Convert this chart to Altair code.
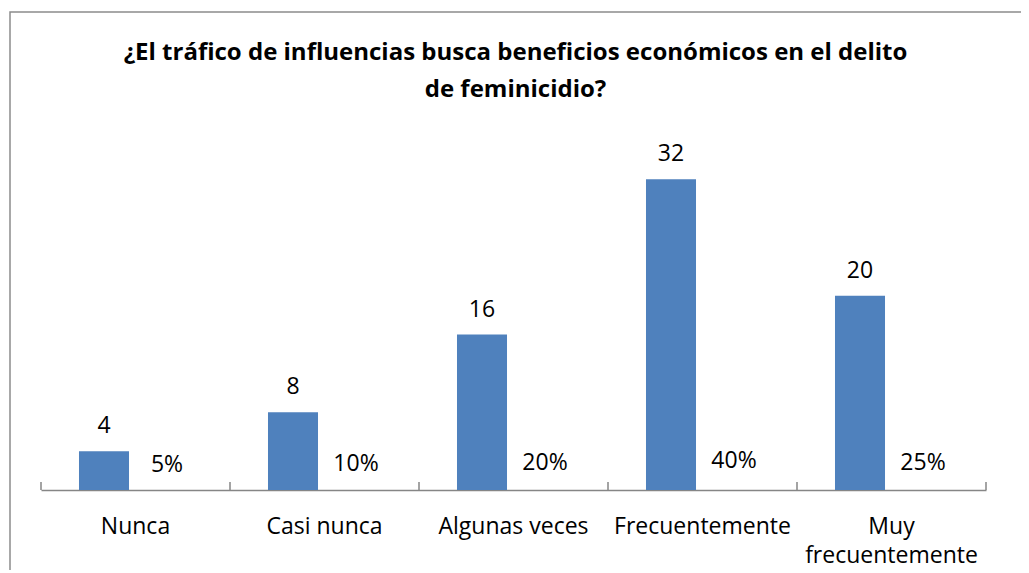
import altair as alt
import pandas as pd

categories = ["Nunca", "Casi nunca", "Algunas veces", "Frecuentemente", "Muy frecuentemente"]
counts = [4, 8, 16, 32, 20]
percents = [5, 10, 20, 40, 25]
series = ["Frecuencia", "Porcentaje"]
title_lines = ["¿El tráfico de influencias busca beneficios económicos en el delito", "de feminicidio?"]

rows = []
for c, n, p in zip(categories, counts, percents):
    rows.append({"categoria": c, "serie": series[0], "pos": n, "etiqueta": str(n)})
    rows.append({"categoria": c, "serie": series[1], "pos": p / 100, "etiqueta": f"{p}%"})
df = pd.DataFrame(rows)

FONT = "Open Sans"
BLUE = "#4F81BD"
AX = "#868686"
H = 340
W = 945

xenc = alt.X(
    "categoria:N",
    sort=categories,
    scale=alt.Scale(paddingInner=0, paddingOuter=0),
    axis=alt.Axis(
        title=None,
        labelAngle=0,
        labelFont=FONT,
        labelFontSize=23,
        labelColor="#000000",
        labelBaseline="alphabetic",
        labelPadding=43,
        labelLimit=400,
        labelLineHeight=29,
        labelExpr="datum.value == 'Muy frecuentemente' ? ['Muy', 'frecuentemente'] : datum.value",
        ticks=False,
        tickSize=0,
        domainColor=AX,
        domainWidth=1.5,
    ),
)
xoff = alt.XOffset("serie:N", sort=series, scale=alt.Scale(paddingInner=0.206, paddingOuter=0.603))
yenc = alt.Y("pos:Q", scale=alt.Scale(domain=[0, 35]), axis=None)

bars = alt.Chart(df).transform_filter(alt.datum.serie == "Frecuencia").mark_bar(color=BLUE).encode(
    x=xenc, xOffset=xoff, y=yenc
)
labels = alt.Chart(df).mark_text(
    font=FONT, fontSize=23, color="#000000", baseline="alphabetic", dy=-18
).encode(x=xenc, xOffset=xoff, y=yenc, text="etiqueta:N")

ticks_df = pd.DataFrame({"categoria": categories})
ticks_left = alt.Chart(ticks_df).mark_rule(color=AX, strokeWidth=1.5).encode(
    x=alt.X("categoria:N", sort=categories, bandPosition=0),
    y=alt.value(H - 8), y2=alt.value(H),
)
ticks_right = alt.Chart(ticks_df).transform_filter(
    alt.datum.categoria == categories[-1]
).mark_rule(color=AX, strokeWidth=1.5).encode(
    x=alt.X("categoria:N", sort=categories, bandPosition=1),
    y=alt.value(H - 8), y2=alt.value(H),
)

frame = alt.Chart(pd.DataFrame({"a": [0]})).mark_rect(
    fill=None, stroke="#8C8C8C", strokeWidth=1.5
).encode(x=alt.value(-31), x2=alt.value(1100), y=alt.value(-138), y2=alt.value(700))

title_df = pd.DataFrame({"linea": title_lines, "orden": [0, 1]})
title1 = alt.Chart(title_df).transform_filter(alt.datum.orden == 0).mark_text(
    font=FONT, fontSize=24, fontWeight="bold", color="#000000", baseline="alphabetic", align="center"
).encode(x=alt.value(W / 2 + 2), y=alt.value(-90), text="linea:N")
title2 = alt.Chart(title_df).transform_filter(alt.datum.orden == 1).mark_text(
    font=FONT, fontSize=24, fontWeight="bold", color="#000000", baseline="alphabetic", align="center"
).encode(x=alt.value(W / 2 + 2), y=alt.value(-53), text="linea:N")

chart = alt.layer(frame, title1, title2, bars, labels, ticks_left, ticks_right).properties(
    width=W,
    height=H,
    autosize=alt.AutoSizeParams(type="none"),
    padding={"left": 33, "right": 35, "top": 142, "bottom": 80},
).configure_view(stroke=None).configure_axis(grid=False)

chart.save("out.html", embed_options={"renderer": "svg", "actions": False})
